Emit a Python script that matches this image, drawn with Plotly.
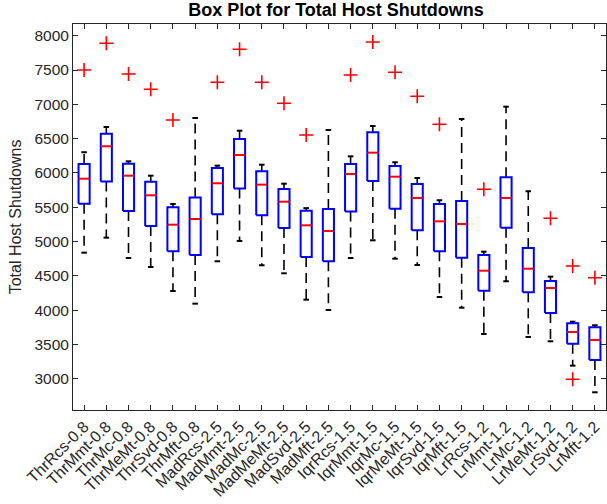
import plotly.graph_objects as go

names = ["ThrRcs-0.8", "ThrMmt-0.8", "ThrMc-0.8", "ThrMeMt-0.8", "ThrSvd-0.8", "ThrMft-0.8",
         "MadRcs-2.5", "MadMmt-2.5", "MadMc-2.5", "MadMeMt-2.5", "MadSvd-2.5", "MadMft-2.5",
         "IqrRcs-1.5", "IqrMmt-1.5", "IqrMc-1.5", "IqrMeMt-1.5", "IqrSvd-1.5", "IqrMft-1.5",
         "LrRcs-1.2", "LrMmt-1.2", "LrMc-1.2", "LrMeMt-1.2", "LrSvd-1.2", "LrMft-1.2"]
lower_whisker = [4839, 5058, 4762, 4631, 4281, 4097, 4714, 5010, 4656, 4539, 4155, 4005,
                 4762, 5020, 4752, 4660, 4194, 4038, 3655, 4423, 3612, 3549, 3194, 2806]
q1 = [5551, 5876, 5445, 5228, 4860, 4806, 5399, 5775, 5384, 5199, 4777, 4714,
      5440, 5884, 5478, 5165, 4860, 4767, 4286, 5204, 4263, 3961, 3514, 3277]
median = [5917, 6389, 5961, 5675, 5247, 5330, 5850, 6262, 5830, 5582, 5238, 5155,
          5985, 6296, 5946, 5636, 5296, 5257, 4577, 5636, 4606, 4325, 3684, 3568]
q3 = [6131, 6573, 6136, 5874, 5500, 5643, 6073, 6495, 6025, 5767, 5451, 5476,
      6131, 6592, 6102, 5840, 5549, 5592, 4806, 5938, 4908, 4427, 3811, 3753]
upper_whisker = [6302, 6670, 6170, 5961, 5549, 6801, 6107, 6616, 6121, 5844, 5488, 6626,
                 6243, 6684, 6156, 5927, 5603, 6787, 4854, 6966, 5734, 4490, 3834, 3782]
outliers = [[7500], [7889], [7442], [7219], [6772], [], [7321], [7802], [7321], [7015], [6554], [],
            [7427], [7908], [7467], [7117], [6709], [], [5763], [], [], [5340], [4646, 2995], [4475]]

BOX_HALF = 0.25
CAP_HALF = 0.125

pos = list(range(1, len(names) + 1))

wx, wy = [], []
cx, cy = [], []
bx, by = [], []
mx, my = [], []
ox, oy = [], []
for i, p in enumerate(pos):
    wx += [p, p, None, p, p, None]
    wy += [q3[i], upper_whisker[i], None, q1[i], lower_whisker[i], None]
    cx += [p - CAP_HALF, p + CAP_HALF, None, p - CAP_HALF, p + CAP_HALF, None]
    cy += [upper_whisker[i], upper_whisker[i], None, lower_whisker[i], lower_whisker[i], None]
    bx += [p - BOX_HALF, p + BOX_HALF, p + BOX_HALF, p - BOX_HALF, p - BOX_HALF, None]
    by += [q1[i], q1[i], q3[i], q3[i], q1[i], None]
    mx += [p - BOX_HALF, p + BOX_HALF, None]
    my += [median[i], median[i], None]
    for o in outliers[i]:
        ox.append(p)
        oy.append(o)

fig = go.Figure()
fig.add_trace(go.Scatter(x=wx, y=wy, mode="lines", line=dict(color="black", width=1.6, dash="10px,6px"),
                         hoverinfo="skip", showlegend=False))
fig.add_trace(go.Scatter(x=cx, y=cy, mode="lines", line=dict(color="black", width=2),
                         hoverinfo="skip", showlegend=False))
fig.add_trace(go.Scatter(x=bx, y=by, mode="lines", line=dict(color="#0000ff", width=2),
                         hoverinfo="skip", showlegend=False))
fig.add_trace(go.Scatter(x=mx, y=my, mode="lines", line=dict(color="#ff0000", width=2),
                         hoverinfo="skip", showlegend=False))
fig.add_trace(go.Scatter(x=ox, y=oy, mode="markers",
                         marker=dict(symbol="cross-thin", size=10, line=dict(color="#ff0000", width=1.6)),
                         hoverinfo="skip", showlegend=False))

axis_color = "#262626"
fig.update_layout(
    width=607, height=504,
    margin=dict(l=73, r=1, t=24, b=94),
    paper_bgcolor="white", plot_bgcolor="white",
    font=dict(family="Liberation Sans, Arial, sans-serif", size=15.5, color=axis_color),
    title=dict(text="Box Plot for Total Host Shutdowns", x=336 / 607, xanchor="center",
               yref="container", y=1 - 9.5 / 504, yanchor="middle",
               font=dict(size=18, color="black", weight="bold")),
    xaxis=dict(range=[0.5, len(names) + 0.5], tickmode="array", tickvals=pos, ticktext=names,
               tickangle=-45, ticks="inside", ticklen=5, tickcolor=axis_color, tickwidth=1,
               tickfont=dict(size=16),
               showline=True, linecolor=axis_color, linewidth=1, mirror="ticks",
               showgrid=False, zeroline=False, automargin=False),
    yaxis=dict(range=[2548, 8170], tickmode="array",
               tickvals=[3000, 3500, 4000, 4500, 5000, 5500, 6000, 6500, 7000, 7500, 8000],
               ticks="inside", ticklen=5, tickcolor=axis_color, tickwidth=1,
               showline=True, linecolor=axis_color, linewidth=1, mirror="ticks",
               showgrid=False, zeroline=False, automargin=False,
               title=dict(text="Total Host Shutdowns", font=dict(size=16), standoff=8)),
)

fig.write_html("out.html", config={"displayModeBar": False},
               post_script="document.body.style.margin='0';document.body.style.overflow='hidden';")
